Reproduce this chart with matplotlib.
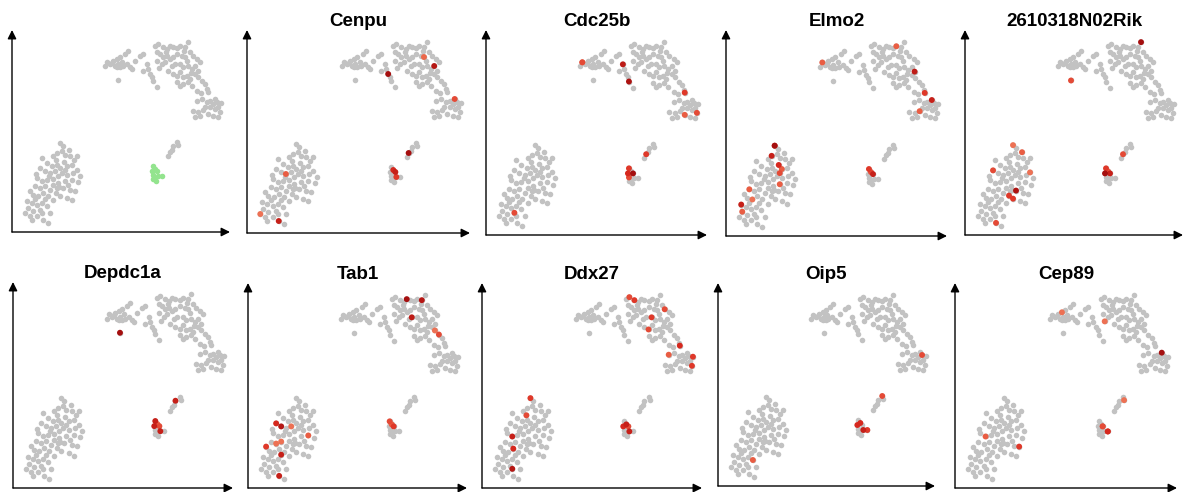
import numpy as np
import matplotlib
matplotlib.use('Agg')
import matplotlib.pyplot as plt
from matplotlib.colors import LinearSegmentedColormap

plt.rcParams['font.family'] = ['Liberation Sans', 'DejaVu Sans']

# t-SNE embedding of all cells
tsne1 = [95, 98, 101, 105, 108, 103, 106, 110, 111, 115, 113, 116, 93, 100, 105, 108, 106, 118,
         128, 131, 131, 136, 138, 140, 141, 145, 135, 123, 120,
         143, 146, 151, 155, 158, 161, 165, 168, 173, 176, 178, 181, 185, 188,
         145, 148, 151, 155, 158, 161, 165, 170, 173, 175, 154, 172,
         145, 150, 153, 160, 163, 168, 171, 176, 180, 183, 147, 156,
         161, 165, 168, 171, 175, 178, 183, 186, 190, 193, 195, 196, 179, 186,
         165, 168, 171, 176, 180,
         185, 190, 195, 198, 201, 205, 193, 198, 203, 206, 181, 186, 191, 196, 201, 206, 183, 188,
         189, 185, 203, 208, 209,
         165, 166, 161, 160, 158, 156,
         48, 51, 50, 45, 41, 53, 58, 65, 30, 35, 40, 45, 48, 55, 60, 28, 33, 38, 43, 50, 55, 61,
         68, 65, 25, 30, 35, 41, 46, 53, 60, 23, 28, 33, 38, 45, 51, 58, 63, 18, 21, 26, 31, 36,
         41, 48, 55, 60, 15, 20, 25, 30, 35, 16, 21, 28, 13, 18, 25, 31, 36, 38,
         62, 57, 44, 37, 46, 56, 33, 44, 23, 30, 20, 52, 47, 41, 24, 66, 53]
tsne2 = [171, 169, 172, 174, 176, 167, 169, 171, 167, 169, 179, 182, 167, 170, 166, 166, 153, 166,
         177, 179, 162, 164, 159, 156, 152, 146, 169, 172, 164,
         187, 189, 186, 184, 187, 186, 185, 187, 186, 191, 181, 177, 174, 171,
         181, 179, 176, 177, 174, 176, 179, 177, 176, 172, 181, 182,
         172, 169, 171, 167, 169, 169, 166, 167, 164, 167, 165, 162,
         159, 157, 161, 156, 157, 154, 159, 156, 152, 149, 144, 141, 160, 162,
         151, 147, 149, 151, 147,
         132, 134, 131, 132, 129, 131, 126, 126, 124, 126, 122, 121, 123, 119, 117, 116, 116, 117,
         140, 142, 134, 121, 130,
         90, 87, 86, 82, 80, 76,
         89, 86, 81, 79, 76, 77, 76, 76, 74, 69, 66, 67, 64, 66, 67, 64, 61, 59, 61, 59, 57, 59,
         56, 62, 54, 51, 52, 53, 49, 51, 52, 46, 44, 46, 42, 44, 44, 42, 41, 41, 37, 36, 39, 36,
         32, 36, 34, 32, 31, 29, 27, 29, 26, 24, 21, 22, 19, 16, 16, 12, 9, 19,
         72, 82, 72, 56, 56, 47, 33, 39, 33, 19, 12, 70, 45, 47, 58, 50, 62]

# highlighted cluster (green in first panel)
cluster_x = [141, 143, 140, 145, 141, 146, 142, 150, 144, 141]
cluster_y = [66, 63, 61, 61, 57, 56, 54, 56, 51, 53]

genes = ['Cenpu', 'Cdc25b', 'Elmo2', '2610318N02Rik', 'Depdc1a',
         'Tab1', 'Ddx27', 'Oip5', 'Cep89']

# expressing cells per gene: approximate position and relative level
expr_x = {
    'Cenpu': [138, 183, 173, 202, 157, 142, 145, 147, 40, 12, 32],
    'Cdc25b': [91, 91, 136, 145, 201, 194, 207, 156, 140, 144, 140, 142, 26],
    'Elmo2': [91, 169, 187, 201, 207, 194, 140, 147, 142, 43, 49, 40, 51, 57, 54, 56, 21, 9, 14, 27],
    '2610318N02Rik': [177, 105, 157, 141, 139, 147, 143, 27, 47, 60, 53, 45, 50, 32, 63],
    'Depdc1a': [107, 161, 142, 141, 145, 149, 143],
    'Tab1': [160, 175, 164, 197, 183, 143, 148, 142, 23, 36, 34, 18, 31, 33, 60, 45, 27],
    'Ddx27': [144, 153, 184, 166, 167, 199, 210, 183, 209, 144, 140, 145, 148, 46, 42, 29, 31, 29],
    'Oip5': [207, 163, 143, 145, 150, 141, 34],
    'Cep89': [203, 148, 175, 152, 155, 153, 149, 68, 27, 103],
}
expr_y = {
    'Cenpu': [160, 166, 175, 133, 81, 63, 61, 58, 59, 21, 11],
    'Cdc25b': [177, 172, 170, 152, 139, 121, 123, 81, 71, 61, 61, 56, 24],
    'Elmo2': [178, 193, 165, 140, 137, 122, 72, 61, 63, 95, 88, 84, 72, 69, 61, 53, 50, 32, 23, 34],
    '2610318N02Rik': [197, 159, 81, 71, 60, 60, 63, 66, 87, 80, 44, 38, 36, 12, 62],
    'Depdc1a': [158, 85, 71, 60, 56, 60, 64],
    'Tab1': [189, 187, 167, 158, 155, 67, 61, 63, 69, 64, 48, 39, 32, 12, 48, 60, 40],
    'Ddx27': [194, 192, 182, 165, 157, 137, 136, 128, 121, 62, 60, 57, 60, 96, 71, 52, 40, 19],
    'Oip5': [134, 88, 63, 58, 59, 60, 29],
    'Cep89': [134, 158, 91, 64, 59, 54, 60, 44, 49, 178],
}
expr_level = {
    'Cenpu': [1.0, 0.9, 0.35, 0.5, 1.0, 0.7, 0.8, 0.6, 0.4, 0.3, 0.8],
    'Cdc25b': [0.5, 0.3, 0.85, 0.95, 0.6, 0.4, 0.5, 0.6, 0.6, 1.0, 0.7, 0.5, 0.5],
    'Elmo2': [0.4, 0.4, 0.85, 0.6, 0.8, 0.4, 0.6, 0.8, 0.5, 0.5, 1.0, 0.8, 0.7, 0.4, 0.5, 0.4, 0.4, 0.8, 0.4, 0.3],
    '2610318N02Rik': [1.0, 0.5, 0.5, 0.6, 1.0, 0.8, 0.4, 0.5, 0.3, 0.4, 0.95, 0.6, 0.6, 0.5, 0.3],
    'Depdc1a': [1.0, 0.8, 0.8, 0.8, 0.8, 0.5, 0.4],
    'Tab1': [1.0, 0.9, 0.85, 0.5, 0.3, 0.5, 0.6, 0.4, 0.7, 0.9, 0.3, 0.6, 0.8, 0.8, 0.4, 0.3, 0.3],
    'Ddx27': [0.5, 0.6, 0.5, 0.6, 0.5, 0.7, 0.6, 0.4, 0.6, 0.8, 0.7, 0.8, 0.5, 0.6, 0.5, 0.8, 0.7, 0.9],
    'Oip5': [0.5, 0.5, 0.7, 0.8, 0.6, 0.7, 0.4],
    'Cep89': [1.0, 0.3, 0.3, 0.5, 0.6, 0.7, 0.5, 0.6, 0.4, 0.3],
}

# panel boxes in pixels: left, right, top, bottom
W, H = 1191, 492
boxes = [(12, 230, 30, 232), (247, 470, 30, 233), (486, 707, 30, 235), (726, 947, 30, 236),
         (965, 1183, 30, 235), (13, 233, 282, 488), (248, 467, 283, 488), (482, 702, 283, 488),
         (718, 935, 283, 486), (955, 1177, 283, 488)]

GRAY = '#c2c2c2'
cmap = LinearSegmentedColormap.from_list('expr', ['#f3b09a', '#ec6a4c', '#dc2b20', '#a50f0f'])

all_x = np.array(tsne1 + cluster_x, dtype=float)
all_y = np.array(tsne2 + cluster_y, dtype=float)

fig = plt.figure(figsize=(W / 100, H / 100), dpi=100)

for k, (l, r, t, b) in enumerate(boxes):
    ax = fig.add_axes([l / W, 1 - b / H, (r - l) / W, (b - t) / H])
    ax.set_xlim(0, 218)
    ax.set_ylim(0, 203)
    ax.axis('off')
    if k == 0:
        ax.scatter(tsne1, tsne2, s=16, c=GRAY, linewidths=0)
        ax.scatter(cluster_x, cluster_y, s=16, c='#93e48e', linewidths=0)
    else:
        gene = genes[k - 1]
        ax.scatter(all_x, all_y, s=16, c=GRAY, linewidths=0)
        gx = np.array(expr_x[gene], dtype=float)
        gy = np.array(expr_y[gene], dtype=float)
        lv = np.array(expr_level[gene])
        # snap each expressing cell onto the nearest embedded cell
        idx = [np.argmin((all_x - a) ** 2 + (all_y - c) ** 2) for a, c in zip(gx, gy)]
        order = np.argsort(lv)
        ax.scatter(all_x[idx][order], all_y[idx][order], s=18, c=lv[order], cmap=cmap,
                   vmin=0, vmax=1, linewidths=0)
        ax.set_title(gene, fontsize=13.5, fontweight='bold', pad=1.5)
    arrow = dict(arrowstyle='-|>', color='black', lw=1.0, mutation_scale=13, shrinkA=0, shrinkB=0)
    ax.annotate('', xy=(1, 0), xytext=(0, 0), xycoords='axes fraction', arrowprops=arrow)
    ax.annotate('', xy=(0, 1), xytext=(0, 0), xycoords='axes fraction', arrowprops=arrow)

fig.savefig('out.png', dpi=100)
